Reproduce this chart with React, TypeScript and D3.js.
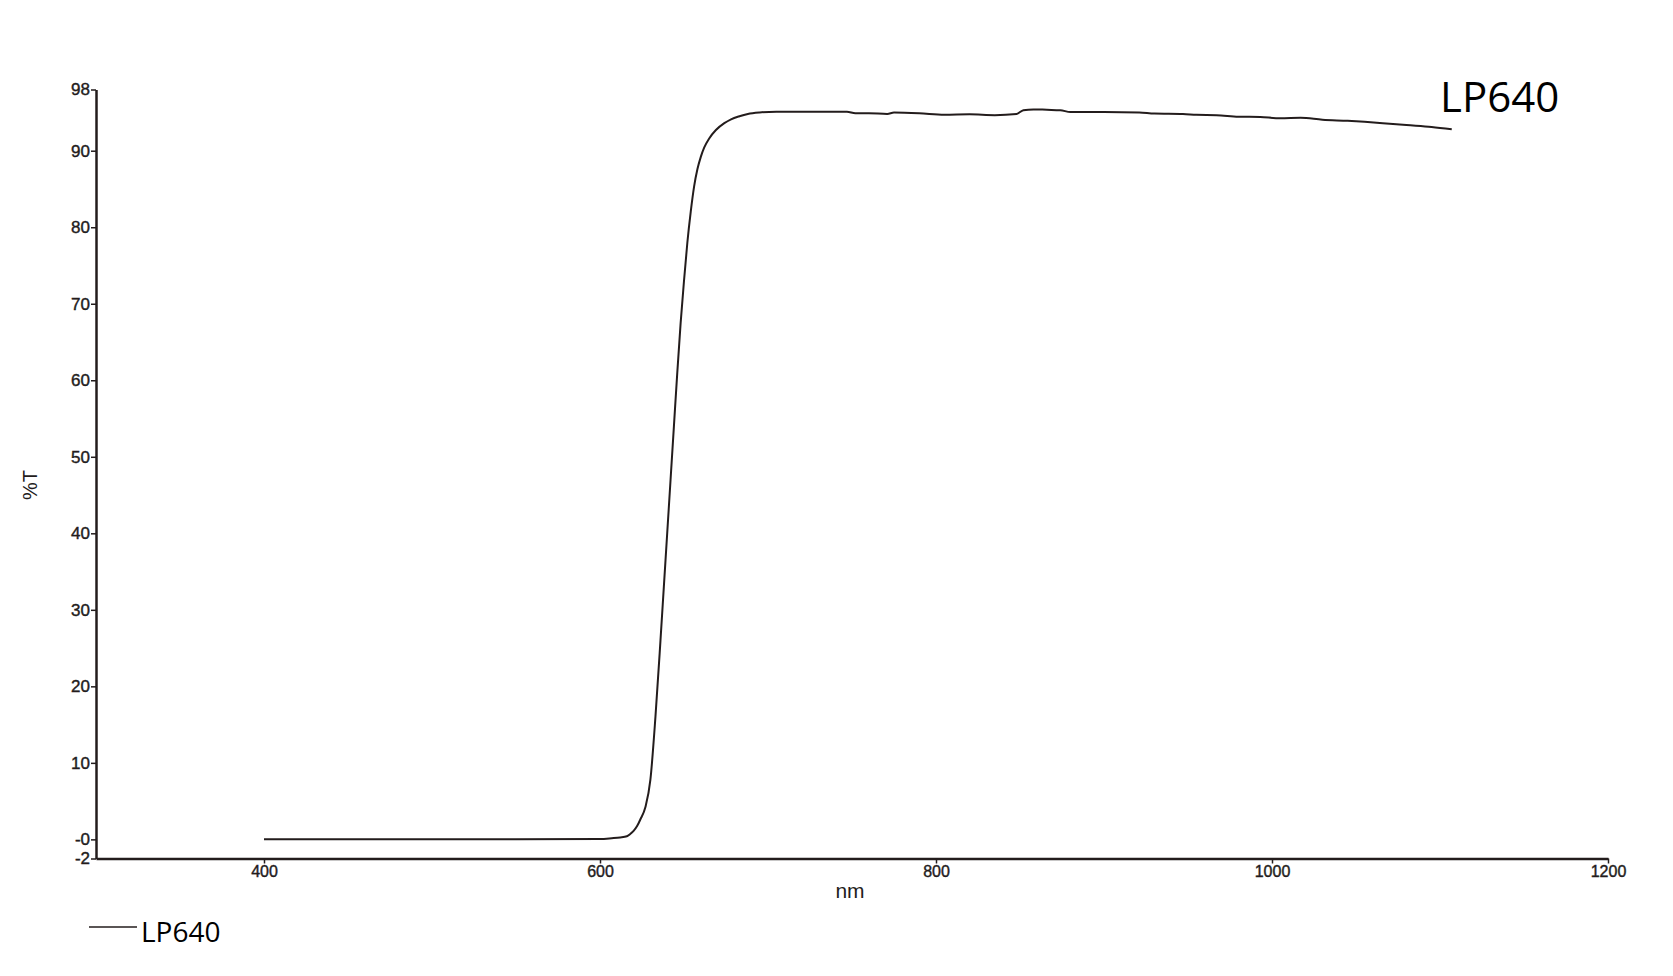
import { useEffect, useRef } from "react";
import * as d3 from "d3";

// wavelength (nm) and transmission (%T)
const wavelengths = [
  400, 450, 500, 550, 600, 607, 612, 616, 618, 620, 622, 624, 627, 630, 633,
  636, 638, 640, 642, 644, 646, 648, 650, 652, 654, 656, 658, 660, 662, 665,
  669, 674, 678, 683, 688, 695, 705, 720, 747, 752, 760, 771, 775, 790, 805,
  820, 835, 848, 852, 858, 866, 874, 880, 900, 921, 930, 947, 955, 967, 980,
  993, 1005, 1017, 1030, 1045, 1066, 1080, 1095, 1107,
];
const transmission = [
  0, 0, 0, 0, 0.05, 0.15, 0.25, 0.4, 0.7, 1.1, 1.7, 2.6, 4.2, 7.8, 16,
  26, 33, 40, 47, 54, 61, 67.5, 73, 78, 82, 85.3, 87.6, 89.2, 90.4, 91.6,
  92.7, 93.6, 94.1, 94.5, 94.8, 95.0, 95.1, 95.1, 95.1, 94.9, 94.9, 94.8, 95.0, 94.9, 94.7,
  94.75, 94.65, 94.8, 95.3, 95.4, 95.35, 95.3, 95.05, 95.05, 95.0, 94.85, 94.8, 94.7, 94.65, 94.45,
  94.4, 94.25, 94.3, 94.05, 93.9, 93.6, 93.35, 93.1, 92.8,
];

const xTicks = [400, 600, 800, 1000, 1200];
const xTickLabels = ["400", "600", "800", "1000", "1200"];
const yTicks = [-2.5, 0, 10, 20, 30, 40, 50, 60, 70, 80, 90, 98];
const yTickLabels = ["-2", "-0", "10", "20", "30", "40", "50", "60", "70", "80", "90", "98"];
const seriesName = "LP640";

export default function App() {
  const svgRef = useRef<SVGSVGElement | null>(null);
  const width = 1673;
  const height = 976;
  const ink = "#231c1c";

  useEffect(() => {
    const svg = d3.select(svgRef.current);
    svg.selectAll("*").remove();

    const x = d3.scaleLinear().domain([300, 1200]).range([96, 1608]);
    const y = d3.scaleLinear().domain([-2.5, 98]).range([858.5, 89.5]);

    // x axis
    const xAxis = svg
      .append("g")
      .attr("transform", `translate(0,${y(-2.5)})`)
      .call(
        d3
          .axisBottom(x)
          .tickValues(xTicks)
          .tickFormat((_, i) => xTickLabels[i])
          .tickSize(5)
          .tickSizeOuter(0)
      );
    xAxis.select(".domain").attr("stroke", ink).attr("stroke-width", 2.5);
    xAxis.selectAll(".tick line").attr("stroke", ink).attr("stroke-width", 1.5);
    xAxis
      .selectAll(".tick text")
      .attr("fill", ink)
      .attr("stroke", ink)
      .attr("stroke-width", 0.4)
      .attr("font-family", "'Liberation Sans', Arial, sans-serif")
      .attr("font-size", 16)
      .attr("dy", "0.95em")
      .attr("y", 3);

    // y axis
    const yAxis = svg
      .append("g")
      .attr("transform", `translate(${x(300)},0)`)
      .call(
        d3
          .axisLeft(y)
          .tickValues(yTicks)
          .tickFormat((_, i) => yTickLabels[i])
          .tickSize(5)
          .tickSizeOuter(0)
      );
    yAxis.select(".domain").attr("stroke", ink).attr("stroke-width", 2.5);
    yAxis.selectAll(".tick line").attr("stroke", ink).attr("stroke-width", 1.5);
    yAxis
      .selectAll(".tick text")
      .attr("fill", ink)
      .attr("stroke", ink)
      .attr("stroke-width", 0.4)
      .attr("font-family", "'Liberation Sans', Arial, sans-serif")
      .attr("font-size", 17)
      .attr("x", -6);

    // axis titles
    svg
      .append("text")
      .attr("x", 850)
      .attr("y", 898)
      .attr("text-anchor", "middle")
      .attr("font-family", "'Liberation Sans', Arial, sans-serif")
      .attr("font-size", 21)
      .attr("fill", ink)
      .text("nm");
    svg
      .append("text")
      .attr("transform", "translate(37,485) rotate(-90)")
      .attr("text-anchor", "middle")
      .attr("font-family", "'Liberation Sans', Arial, sans-serif")
      .attr("font-size", 20)
      .attr("fill", ink)
      .text("%T");

    // spectrum
    const pts = wavelengths.map((w, i) => [w, transmission[i]] as [number, number]);
    const line = d3
      .line<[number, number]>()
      .x((d) => x(d[0]))
      .y((d) => y(d[1]))
      .curve(d3.curveMonotoneX);
    svg
      .append("path")
      .attr("d", line(pts))
      .attr("fill", "none")
      .attr("stroke", ink)
      .attr("stroke-width", 2);

    // series label in the corner
    svg
      .append("text")
      .attr("x", 1440)
      .attr("y", 112)
      .attr("font-family", "'Open Sans', sans-serif")
      .attr("font-size", 42)
      .attr("fill", "#000")
      .text(seriesName);

    // legend
    svg
      .append("line")
      .attr("x1", 89)
      .attr("x2", 137)
      .attr("y1", 927)
      .attr("y2", 927)
      .attr("stroke", ink)
      .attr("stroke-width", 1.5);
    svg
      .append("text")
      .attr("x", 141)
      .attr("y", 942)
      .attr("font-family", "'Open Sans', sans-serif")
      .attr("font-size", 28)
      .attr("fill", "#000")
      .text(seriesName);
  }, []);

  return (
    <svg
      ref={svgRef}
      width={width}
      height={height}
      style={{ position: "absolute", left: 0, top: 0, background: "#fff" }}
    />
  );
}
